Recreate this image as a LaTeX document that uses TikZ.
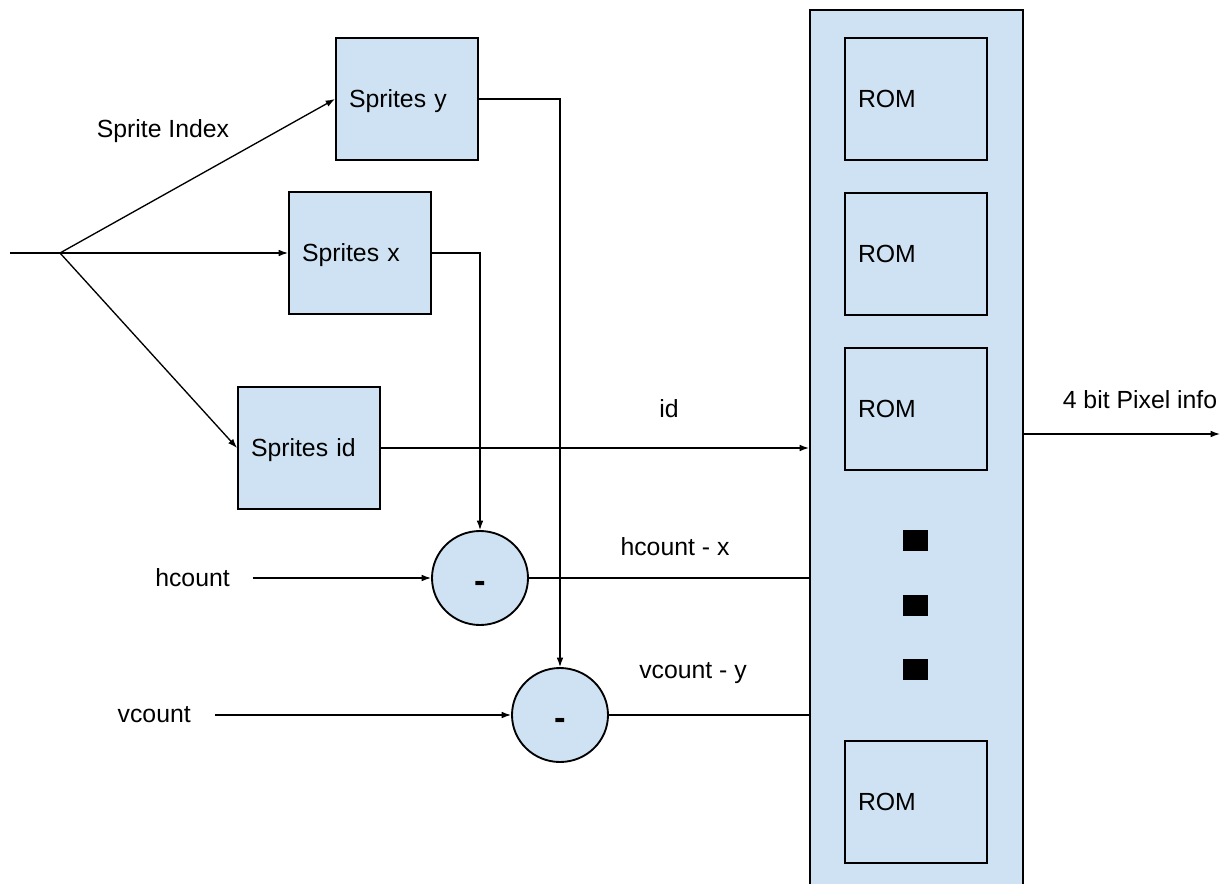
\documentclass[tikz,border=0pt]{standalone}
\usepackage{fontspec}
\setmainfont{Liberation Sans}
\usetikzlibrary{arrows.meta,shapes.geometric}
\definecolor{boxblue}{HTML}{CFE2F3}
\begin{document}
\begin{tikzpicture}[x=0.75pt,y=-0.75pt,
  font=\fontsize{18.6}{22}\selectfont,
  box/.style={draw=black,line width=1.4pt,fill=boxblue,rectangle,
    text width=87pt,inner xsep=9.75pt,inner ysep=0pt,minimum height=91.5pt,align=left,
    text depth=0pt},
  sub/.style={draw=black,line width=1.4pt,fill=boxblue,ellipse,
    minimum width=72pt,minimum height=70.5pt,inner sep=0pt,
    text height=22pt,text depth=0pt,
    font=\fontsize{26}{26}\selectfont\bfseries},
  lbl/.style={inner sep=0pt},
  wire/.style={line width=1pt,black},
  arr/.style={wire,-{Latex[length=7pt,width=5pt]}},
  dot/.style={fill=black,draw=none}
]
\useasboundingbox (0,0) rectangle (1228,884);
% memory bank
\node[draw=black,line width=1.4pt,fill=boxblue,rectangle,minimum width=159.75pt,minimum height=666pt,inner sep=0pt,anchor=north west] (bank) at (809,9) {};
\node[box] (rom1) at (916,99) {ROM};
\node[box] (rom2) at (916,254) {ROM};
\node[box] (rom3) at (916,409) {ROM};
\node[box] (rom4) at (916,802) {ROM};
\fill[dot] (903,530) rectangle (928,551);
\fill[dot] (903,595) rectangle (928,616);
\fill[dot] (903,659) rectangle (928,680);
% sprite registers
\node[box] (sy) at (407,99) {Sprites y};
\node[box] (sx) at (360,253) {Sprites x};
\node[box] (sid) at (309,448) {Sprites id};
% subtractors
\node[sub] (c1) at (480,578) {-};
\node[sub] (c2) at (560,715) {-};
% labels
\node[lbl] (lidx) at (163,131) {Sprite Index};
\node[lbl] (lid) at (669,409) {id};
\node[lbl] (lhx) at (675,547) {hcount - x};
\node[lbl] (lvy) at (693,673) {vcount - y};
\node[lbl] (lout) at (1140,400) {4 bit Pixel info};
\node[lbl,anchor=east] (hc) at (230,578) {hcount};
\node[lbl,anchor=east] (vc) at (191,715) {vcount};
% coordinates
\coordinate (in) at (10,253);
\coordinate (j) at (60,253);
\coordinate (out) at (1220,434);
% wires
\draw[wire] (in) -- (j);
\draw[arr] (j) -- (sy.west);
\draw[arr] (j) -- (sx.west);
\draw[arr] (j) -- (sid.west);
\draw[arr] (sy.east) -| (c2.north);
\draw[arr] (sx.east) -| (c1.north);
\draw[arr] (sid.east) -- (sid.east -| bank.west);
\draw[arr] ([xshift=17pt]hc.east) -- (c1.west);
\draw[arr] ([xshift=18pt]vc.east) -- (c2.west);
\draw[wire] (c1.east) -- (c1.east -| bank.west);
\draw[wire] (c2.east) -- (c2.east -| bank.west);
\draw[arr] (out -| bank.east) -- (out);
\end{tikzpicture}
\end{document}
